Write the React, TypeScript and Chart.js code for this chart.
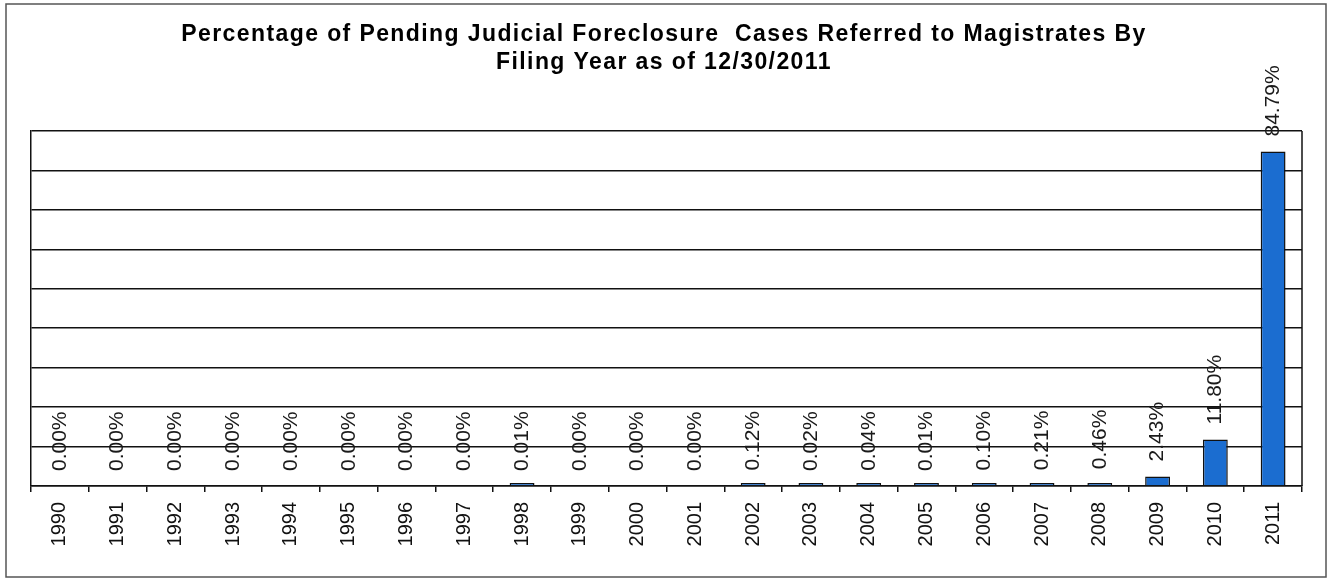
import React, { useEffect, useRef } from 'react';
import { Chart, registerables } from 'chart.js';

Chart.register(...registerables);

const years = ['1990', '1991', '1992', '1993', '1994', '1995', '1996', '1997', '1998', '1999', '2000', '2001', '2002', '2003', '2004', '2005', '2006', '2007', '2008', '2009', '2010', '2011'];
const percents = [0, 0, 0, 0, 0, 0, 0, 0, 0.01, 0, 0, 0, 0.12, 0.02, 0.04, 0.01, 0.10, 0.21, 0.46, 2.43, 11.80, 84.79];
const yTickValues = [0, 10, 20, 30, 40, 50, 60, 70, 80, 90];
const titleLines = ['Percentage of Pending Judicial Foreclosure  Cases Referred to Magistrates By', 'Filing Year as of 12/30/2011'];

const FONT = '"Liberation Sans", Arial, sans-serif';

const decorPlugin = {
  id: 'decor',
  beforeDraw(chart: any) {
    const ctx = chart.ctx;
    ctx.save();
    ctx.fillStyle = '#ffffff';
    ctx.fillRect(0, 0, chart.width, chart.height);
    ctx.strokeStyle = '#555555';
    ctx.lineWidth = 1.5;
    ctx.strokeRect(6, 4, chart.width - 8, chart.height - 7);
    ctx.fillStyle = '#000000';
    ctx.font = `bold 23px ${FONT}`;
    try {
      (ctx as any).letterSpacing = '1.4px';
    } catch (e) {}
    ctx.textAlign = 'center';
    ctx.textBaseline = 'middle';
    ctx.fillText(titleLines[0], 664, 35);
    ctx.fillText(titleLines[1], 664, 63);
    ctx.restore();
  },
  afterDraw(chart: any) {
    const ctx = chart.ctx;
    const area = chart.chartArea;
    const xs = chart.scales.x;
    const ys = chart.scales.y;
    ctx.save();
    ctx.strokeStyle = '#111111';
    ctx.lineWidth = 1.5;
    ctx.beginPath();
    ctx.moveTo(area.right, area.top);
    ctx.lineTo(area.right, area.bottom);
    ctx.stroke();
    const base = ys.getPixelForValue(0);
    ctx.fillStyle = '#1a1a1a';
    ctx.font = `21px ${FONT}`;
    ctx.textAlign = 'left';
    ctx.textBaseline = 'middle';
    percents.forEach((v, i) => {
      const x = xs.getPixelForValue(i);
      const top = Math.min(ys.getPixelForValue(v), base);
      ctx.save();
      ctx.translate(x, top - 15);
      ctx.rotate(-Math.PI / 2);
      ctx.fillText(v.toFixed(2) + '%', 0, 0);
      ctx.restore();
    });
    ctx.restore();
  },
};

export default function App() {
  const ref = useRef<HTMLCanvasElement | null>(null);
  useEffect(() => {
    document.body.style.margin = '0';
    const canvas = ref.current;
    if (!canvas) return;
    const chart = new Chart(canvas, {
      type: 'bar',
      data: {
        labels: years,
        datasets: [
          {
            data: percents.map((v) => (v === 0 ? null : v)),
            backgroundColor: '#1b6dd0',
            borderColor: '#111111',
            borderWidth: 1.5,
            barPercentage: 0.43,
            categoryPercentage: 1,
            minBarLength: 3,
          },
        ],
      },
      options: {
        responsive: false,
        animation: false,
        devicePixelRatio: 1,
        layout: { padding: { left: 31, right: 26, top: 131, bottom: 0 } },
        plugins: {
          legend: { display: false },
          title: { display: false },
          tooltip: { enabled: false },
        },
        scales: {
          x: {
            afterFit: (s: any) => {
              s.height = 94;
            },
            grid: {
              offset: true,
              drawOnChartArea: false,
              drawTicks: true,
              tickLength: 6,
              color: '#111111',
              lineWidth: 1.5,
            },
            border: { display: true, color: '#111111', width: 1.5 },
            ticks: {
              minRotation: 90,
              maxRotation: 90,
              autoSkip: false,
              padding: 10,
              color: '#111111',
              font: { family: FONT, size: 20 },
            },
          },
          y: {
            min: 0,
            max: 90,
            afterFit: (s: any) => {
              s.width = 0;
            },
            afterBuildTicks: (s: any) => {
              s.ticks = yTickValues.map((v) => ({ value: v }));
            },
            grid: {
              drawTicks: false,
              color: '#111111',
              lineWidth: 1.5,
            },
            border: { display: true, color: '#111111', width: 1.5 },
            ticks: { display: false },
          },
        },
      },
      plugins: [decorPlugin],
    });
    return () => chart.destroy();
  }, []);
  return <canvas ref={ref} width={1328} height={580} style={{ display: 'block', width: 1328, height: 580 }} />;
}
